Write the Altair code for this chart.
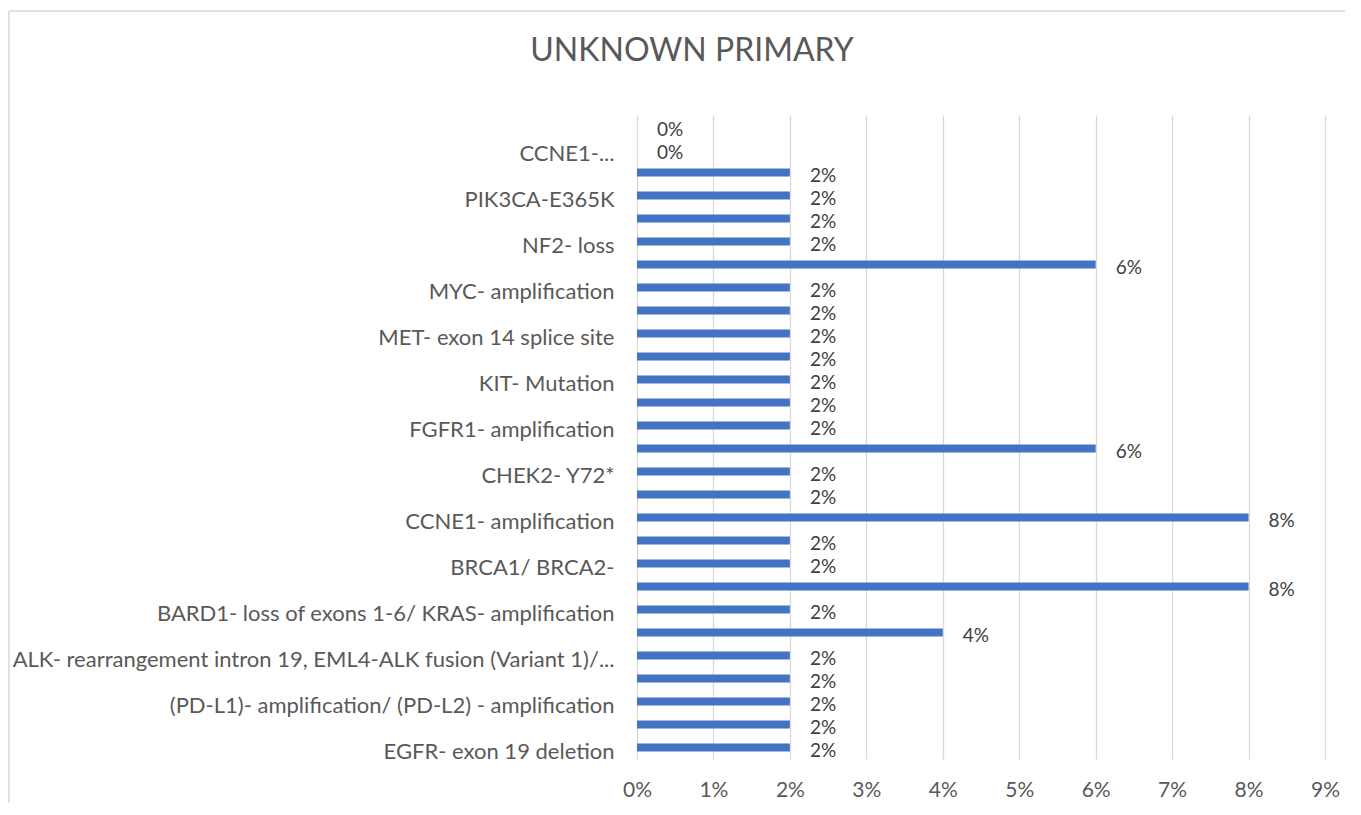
import json
import altair as alt
import pandas as pd

# Category labels, top to bottom ("" = category whose label is not shown)
labels = [
    "", "CCNE1-...", "", "PIK3CA-E365K", "", "NF2- loss", "",
    "MYC- amplification", "", "MET- exon 14 splice site", "", "KIT- Mutation",
    "", "FGFR1- amplification", "", "CHEK2- Y72*", "", "CCNE1- amplification",
    "", "BRCA1/ BRCA2-", "", "BARD1- loss of exons 1-6/ KRAS- amplification",
    "", "ALK- rearrangement intron 19, EML4-ALK fusion (Variant 1)/...",
    "", "(PD-L1)- amplification/ (PD-L2) - amplification", "",
    "EGFR- exon 19 deletion",
]
# Share of patients, top to bottom
values = [
    0.00, 0.00, 0.02, 0.02, 0.02, 0.02, 0.06, 0.02, 0.02, 0.02, 0.02, 0.02,
    0.02, 0.02, 0.06, 0.02, 0.02, 0.08, 0.02, 0.02, 0.08, 0.02, 0.04, 0.02,
    0.02, 0.02, 0.02, 0.02,
]
x_ticks = [0, 0.01, 0.02, 0.03, 0.04, 0.05, 0.06, 0.07, 0.08, 0.09]
title_text = "UNKNOWN PRIMARY"

df = pd.DataFrame({"pos": list(range(len(labels))), "label": labels, "value": values})

FONT = "Lato"
label_expr = json.dumps(labels) + "[datum.value]"

y_enc = alt.Y(
    "pos:O",
    sort="ascending",
    title=None,
    scale=alt.Scale(paddingInner=0.65, paddingOuter=0.325),
    axis=alt.Axis(
        labelExpr=label_expr, ticks=False, domain=False, grid=False,
        labelPadding=23, labelLimit=800, labelFont=FONT, labelFontSize=22,
        labelColor="#595959", labelOffset=4,
    ),
)
x_enc = alt.X(
    "value:Q",
    title=None,
    scale=alt.Scale(domain=[0, 0.09], nice=False, zero=True),
    axis=alt.Axis(
        values=x_ticks, format=".0%", ticks=False, domain=False, grid=True,
        gridColor="#d9d9d9", gridWidth=1.3, labelPadding=20, labelFont=FONT,
        labelFontSize=21, labelColor="#595959", labelFlush=False,
    ),
)

base = alt.Chart(df)
bars = base.mark_bar(color="#4472C4", size=8).encode(x=x_enc, y=y_enc)
text = base.mark_text(
    align="left", baseline="middle", dx=20, dy=3, font=FONT, fontSize=19,
    color="#404040",
).encode(x="value:Q", y=alt.Y("pos:O", sort="ascending"), text=alt.Text("value:Q", format=".0%"))

frame_df = pd.DataFrame({"a": [0]})
frame_left = alt.Chart(frame_df).mark_rule(color="#d9d9d9", strokeWidth=1.5).encode(
    x=alt.value(-628), y=alt.value(-104), y2=alt.value(720)
)
frame_top = alt.Chart(frame_df).mark_rule(color="#d9d9d9", strokeWidth=1.5).encode(
    x=alt.value(-628), x2=alt.value(740), y=alt.value(-104)
)
title_df = pd.DataFrame({"title": [title_text]})
title = alt.Chart(title_df).mark_text(
    font=FONT, fontSize=32, color="#595959", align="center", baseline="alphabetic"
).encode(text="title:N", x=alt.value(55), y=alt.value(-54))

chart = alt.layer(frame_left, frame_top, title, bars, text).properties(
    width=688,
    height=644,
    padding={"left": 629, "top": 107, "right": 20, "bottom": 44},
    autosize=alt.AutoSizeParams(type="none"),
).configure_view(stroke=None)

chart.save("out.html", embed_options={"renderer": "svg", "actions": False})
